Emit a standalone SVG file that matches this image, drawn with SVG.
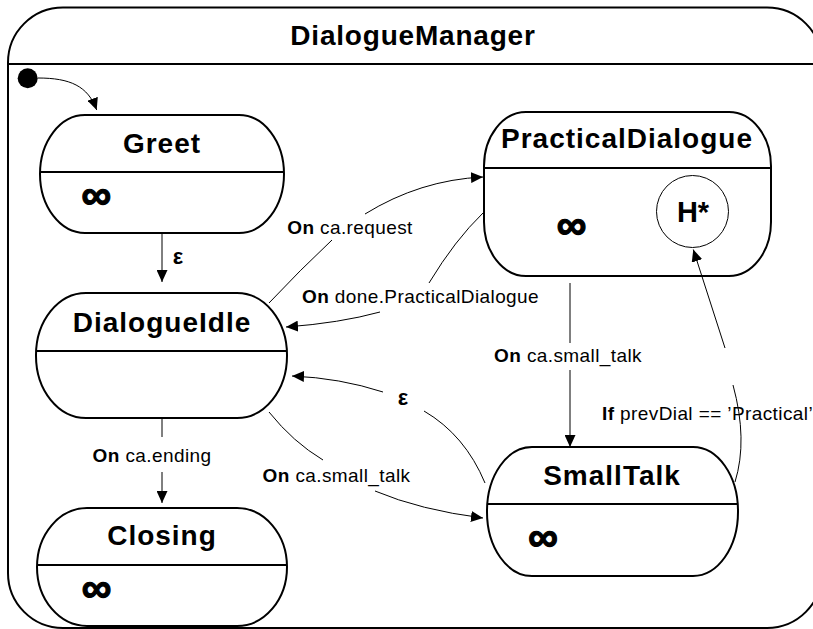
<svg xmlns="http://www.w3.org/2000/svg" width="813" height="629" viewBox="0 0 813 629">
  <style>
    .frame { fill: #fff; stroke: #000; stroke-width: 2; }
    .state { fill: #fff; stroke: #000; stroke-width: 2; }
    .sep { stroke: #000; stroke-width: 2; }
    .conn { fill: none; stroke: #000; stroke-width: 1; }
    .title { font-family: "Liberation Sans", Arial, sans-serif; font-weight: bold; font-size: 28px; letter-spacing: 0.8px; text-anchor: middle; }
    .name { font-family: "Liberation Sans", Arial, sans-serif; font-weight: bold; font-size: 28px; letter-spacing: 1px; text-anchor: middle; }
    .inf { font-family: "Liberation Sans", Arial, sans-serif; font-weight: bold; font-size: 42px; text-anchor: middle; stroke: #000; stroke-width: 1.2px; }
    .lbl { font-family: "Liberation Sans", Arial, sans-serif; font-size: 19px; letter-spacing: 0.4px; text-anchor: middle; }
    .lbl tspan.kw { font-weight: bold; }
    .eps { font-family: "Liberation Sans", Arial, sans-serif; font-weight: bold; font-size: 22px; text-anchor: middle; }
  </style>
  <defs>
    <marker id="arrow" markerUnits="userSpaceOnUse" markerWidth="12" markerHeight="11" refX="12" refY="5.5" orient="auto">
      <path d="M0,0 L12,5.5 L0,11 z" fill="#000"/>
    </marker>
  </defs>

  <!-- composite state frame -->
  <g id="DialogueManager">
    <rect class="frame" x="8" y="7.5" width="814" height="620.5" rx="55" ry="55"/>
    <line class="sep" x1="8" y1="64" x2="813" y2="64"/>
    <text class="title" x="413" y="45">DialogueManager</text>
  </g>

  <!-- initial pseudo-state -->
  <g id="initial">
    <circle cx="27.7" cy="78.3" r="10" fill="#000"/>
  </g>

  <g id="Greet">
    <rect class="state" x="40" y="115" width="244" height="118" rx="45" ry="59"/>
    <line class="sep" x1="40" y1="172" x2="284" y2="172"/>
    <text class="name" x="162" y="153">Greet</text>
    <text class="inf" x="96.5" y="209">∞</text>
  </g>

  <g id="DialogueIdle">
    <rect class="state" x="36" y="293" width="251" height="125" rx="50" ry="62"/>
    <line class="sep" x1="36" y1="351" x2="287" y2="351"/>
    <text class="name" x="162" y="332">DialogueIdle</text>
  </g>

  <g id="Closing">
    <rect class="state" x="37" y="508" width="250" height="118" rx="50" ry="59"/>
    <line class="sep" x1="37" y1="565" x2="287" y2="565"/>
    <text class="name" x="162" y="545">Closing</text>
    <text class="inf" x="96.7" y="602">∞</text>
  </g>

  <g id="PracticalDialogue">
    <rect class="state" x="484" y="112" width="287" height="164" rx="42" ry="54"/>
    <line class="sep" x1="484" y1="168" x2="771" y2="168"/>
    <text class="name" x="627" y="148">PracticalDialogue</text>
    <text class="inf" x="571.7" y="239">∞</text>
    <g id="History">
      <circle cx="692.5" cy="211.5" r="36" fill="#fff" stroke="#000" stroke-width="1"/>
      <text class="name" x="693" y="222" style="font-size:29px;letter-spacing:0">H*</text>
    </g>
  </g>

  <g id="SmallTalk">
    <rect class="state" x="487" y="447" width="251" height="129" rx="45" ry="64"/>
    <line class="sep" x1="487" y1="504" x2="738" y2="504"/>
    <text class="name" x="612" y="485">SmallTalk</text>
    <text class="inf" x="543.3" y="551">∞</text>
  </g>

  <!-- transitions -->
  <g id="connectors">
    <path class="conn" d="M38,78 C70,78 88,86 96.7,110" marker-end="url(#arrow)"/>

    <path class="conn" d="M162,233 L162,282" marker-end="url(#arrow)"/>
    <text class="eps" x="178" y="264">ε</text>

    <path class="conn" d="M269,303 Q300,270 332,240"/>
    <path class="conn" d="M365,214 Q420,180 483,177" marker-end="url(#arrow)"/>
    <text class="lbl" x="350" y="234"><tspan class="kw">On</tspan> ca.request</text>

    <path class="conn" d="M483,213 Q455,240 429,283"/>
    <path class="conn" d="M380,312 Q340,323 286,327" marker-end="url(#arrow)"/>
    <text class="lbl" x="420.5" y="303"><tspan class="kw">On</tspan> done.PracticalDialogue</text>

    <path class="conn" d="M570,283 L570,343"/>
    <path class="conn" d="M570,370 L570,447" marker-end="url(#arrow)"/>
    <text class="lbl" x="568" y="362"><tspan class="kw">On</tspan> ca.small_talk</text>

    <path class="conn" d="M733,385 Q748,440 735,482"/>
    <path class="conn" d="M725,348 L693.3,249.5" marker-end="url(#arrow)"/>
    <text class="lbl" x="602" y="419.5" style="text-anchor:start"><tspan class="kw">If</tspan> prevDial == ’Practical’</text>

    <path class="conn" d="M424,411 Q465,435 485,483"/>
    <path class="conn" d="M383,392 Q340,378 292,376" marker-end="url(#arrow)"/>
    <text class="eps" x="403" y="405">ε</text>

    <path class="conn" d="M269,412 Q293,442 323,460"/>
    <path class="conn" d="M375,491 Q420,510 483,518" marker-end="url(#arrow)"/>
    <text class="lbl" x="336.5" y="482"><tspan class="kw">On</tspan> ca.small_talk</text>

    <path class="conn" d="M162,418 L162,437"/>
    <path class="conn" d="M162,472 L162,503" marker-end="url(#arrow)"/>
    <text class="lbl" x="152" y="462"><tspan class="kw">On</tspan> ca.ending</text>
  </g>
</svg>
